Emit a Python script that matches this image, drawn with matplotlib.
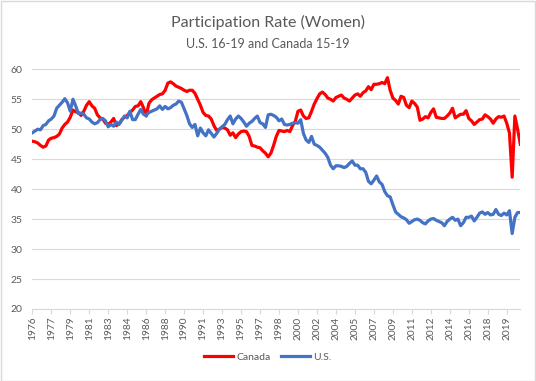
import matplotlib
matplotlib.use('Agg')
import matplotlib.pyplot as plt
from matplotlib.patches import Rectangle

plt.rcParams['font.family'] = ['Lato', 'DejaVu Sans']

# quarterly, 1976Q1 .. 2021Q1
canada = [
    48.0, 47.9, 47.7, 47.3, 47.0, 47.2, 48.2, 48.5, 48.6, 48.8,
    49.2, 50.2, 50.8, 51.2, 52.0, 53.2, 52.9, 52.8, 52.3, 53.0,
    54.0, 54.6, 53.9, 53.5, 52.4, 51.9, 51.7, 51.0, 50.8, 51.2,
    51.8, 50.6, 50.9, 51.6, 52.0, 52.3, 52.8, 53.2, 53.8, 53.9,
    54.6, 53.6, 52.2, 54.3, 54.9, 55.2, 55.5, 55.8, 55.9, 56.5,
    57.7, 57.9, 57.6, 57.2, 57.0, 56.8, 56.5, 56.3, 56.5, 56.5,
    56.0, 55.0, 54.0, 52.8, 52.3, 52.2, 51.7, 50.6, 49.8, 50.0,
    50.3, 50.2, 49.9, 49.0, 49.4, 48.6, 49.2, 49.6, 49.7, 49.6,
    48.8, 47.3, 47.2, 47.0, 46.9, 46.4, 46.0, 45.4, 46.0, 47.3,
    48.8, 49.8, 49.7, 49.6, 49.8, 49.6, 50.6, 51.3, 53.0, 53.2,
    52.2, 51.8, 51.9, 53.0, 54.2, 55.1, 55.9, 56.2, 55.8, 55.2,
    55.0, 54.7, 55.3, 55.5, 55.7, 55.2, 55.0, 54.7, 55.2, 55.7,
    55.9, 55.5, 56.1, 56.4, 57.1, 56.6, 57.5, 57.5, 57.6, 57.8,
    57.6, 58.6, 56.5, 55.2, 54.8, 54.2, 55.5, 55.3, 54.0, 53.6,
    54.7, 54.3, 53.7, 51.5, 51.7, 52.1, 51.9, 52.8, 53.4, 52.0,
    51.9, 51.8, 51.8, 52.2, 52.7, 53.5, 51.9, 52.2, 52.5, 52.5,
    53.1, 51.8, 51.4, 50.8, 51.2, 51.6, 51.7, 52.4, 52.1, 51.7,
    51.0, 51.7, 52.1, 52.0, 52.2, 51.0, 49.4, 42.0, 52.2, 50.0,
    47.5,
]
us = [
    49.4, 49.7, 50.0, 49.9, 50.6, 50.8, 51.4, 51.7, 52.2, 53.5,
    54.0, 54.5, 55.1, 54.4, 53.0, 55.0, 53.9, 52.6, 52.7, 52.5,
    51.9, 51.7, 51.2, 50.9, 51.1, 51.6, 51.8, 51.4, 50.4, 50.8,
    50.5, 51.2, 50.8, 51.5, 52.2, 51.9, 53.0, 51.6, 51.6, 52.5,
    53.3, 52.5, 52.3, 52.8, 53.0, 53.2, 53.4, 53.9, 53.3, 53.8,
    53.4, 53.6, 54.0, 54.2, 54.7, 54.5, 53.4, 52.3, 50.9, 50.3,
    50.8, 48.9, 50.2, 49.4, 48.9, 49.9, 49.3, 48.7, 49.3, 50.0,
    50.4, 50.8, 51.6, 52.2, 50.9, 51.7, 52.2, 51.8, 51.2, 50.5,
    51.0, 51.3, 51.8, 52.2, 51.1, 50.9, 50.3, 52.4, 52.5, 52.3,
    52.0, 51.4, 51.7, 50.8, 50.7, 50.8, 51.0, 51.1, 51.0, 51.6,
    49.3, 48.2, 47.8, 48.8, 47.5, 47.3, 47.0, 46.5, 46.0, 45.3,
    44.0, 43.4, 43.9, 43.9, 43.8, 43.6, 43.8, 44.3, 44.7, 44.0,
    44.0, 43.4, 43.4, 42.8, 41.3, 40.9, 41.5, 42.2, 41.2, 40.8,
    39.6, 38.9, 38.7, 37.4, 36.2, 35.8, 35.4, 35.2, 34.9, 34.3,
    34.6, 34.9, 35.0, 34.8, 34.4, 34.2, 34.7, 35.0, 35.1, 34.8,
    34.6, 34.4, 33.9, 34.6, 35.0, 35.3, 34.8, 35.0, 33.9, 34.4,
    35.3, 35.3, 35.5, 34.7, 35.3, 36.0, 36.2, 35.8, 36.1, 35.7,
    35.8, 36.6, 35.8, 35.6, 36.0, 35.7, 36.4, 32.6, 35.3, 36.1,
    36.1,
]
# one label every 7 quarters
tick_labels = ['1976', '1977', '1979', '1981', '1983', '1984', '1986', '1988',
               '1990', '1991', '1993', '1995', '1997', '1998', '2000', '2002',
               '2004', '2005', '2007', '2009', '2011', '2012', '2014', '2016',
               '2018', '2019']

grey = '#d9d9d9'
txt = '#595959'

fig = plt.figure(figsize=(5.36, 3.81), dpi=100)
ax = fig.add_axes([32.3 / 536, 1 - 309 / 381, 488 / 536, 239.7 / 381])

x = list(range(len(canada)))
ax.plot(x, canada, color='#ff0000', linewidth=2.3, label='Canada', solid_joinstyle='round')
ax.plot(x, us, color='#4472c4', linewidth=2.3, label='U.S.', solid_joinstyle='round')

ax.set_xlim(0, len(canada) - 1)
ax.set_ylim(20, 60)
ax.set_yticks(range(20, 61, 5))
ax.grid(axis='y', color=grey, linewidth=0.8)
ax.set_axisbelow(True)

ticks = list(range(0, len(canada), 7))
ax.set_xticks(ticks)
ax.set_xticklabels(tick_labels[:len(ticks)], rotation=90, fontsize=7.3, color=txt)
ax.tick_params(axis='x', direction='out', length=3.5, color=grey, pad=2)
ax.tick_params(axis='y', length=0, labelsize=7.5, labelcolor=txt, pad=7)

for s in ['top', 'right', 'left']:
    ax.spines[s].set_visible(False)
ax.spines['bottom'].set_color(grey)

fig.text(0.5, 1 - 22 / 381, 'Participation Rate (Women)', ha='center', va='center',
         fontsize=11.5, color=txt)
fig.text(0.5, 1 - 44 / 381, 'U.S. 16-19 and Canada 15-19', ha='center', va='center',
         fontsize=9, color=txt)

fig.legend(loc='center', bbox_to_anchor=(0.5, 1 - 357 / 381), ncol=2, frameon=False,
           fontsize=7.5, handlelength=2.8, handletextpad=0.3, columnspacing=1.0,
           labelcolor=txt)

fig.patches.append(Rectangle((0.001, 0.001), 0.997, 0.997, transform=fig.transFigure,
                             fill=False, edgecolor=grey, linewidth=1))

fig.savefig('out.png', dpi=100)
